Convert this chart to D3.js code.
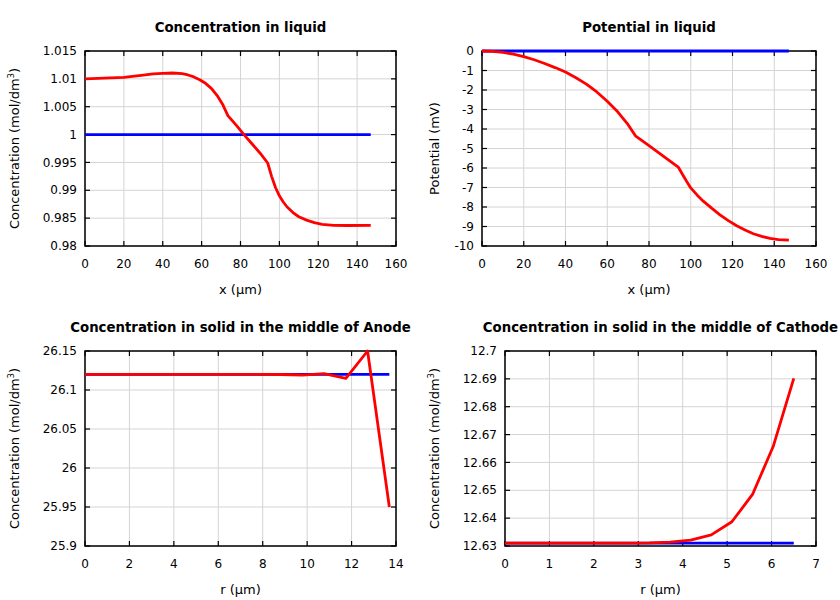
<!DOCTYPE html>
<html><head><meta charset="utf-8">
<script src="https://cdn.jsdelivr.net/npm/d3@7"></script>
<style>body{margin:0;background:#fff} text{font-family:"DejaVu Sans",sans-serif;fill:#000}</style>
</head><body><svg id="c" width="840" height="600"></svg>
<script>
// ---- Data ----
// Panel 1: Concentration in liquid
const liqX = [0,10,20,30,35,40,45,50,53,56,59,62,65,68,71,73.5,78,82,86,90,94,96,98,100,102,104,107,110,114,118,122,128,135,147];
const liqConc = [1.0100,1.01013,1.01028,1.01067,1.0109,1.0110,1.01105,1.01095,1.0107,1.01035,1.00985,1.0092,1.0083,1.0070,1.0053,1.0034,1.0016,0.9999,0.9983,0.9967,0.9949,0.9925,0.9905,0.9890,0.9879,0.9870,0.9860,0.98525,0.98465,0.9842,0.98388,0.9837,0.98368,0.9837];
const liqConcInit = [1,1];
const liqInitX = [0,147];
// Panel 2: Potential in liquid
const potX = [0,5,10,15,20,25,30,35,40,45,50,55,60,65,70,73.5,80,87,94,96,98,100,103,106,110,114,118,122,126,130,134,138,142,147];
const potVal = [0,-0.02,-0.07,-0.16,-0.29,-0.45,-0.64,-0.85,-1.08,-1.37,-1.70,-2.10,-2.58,-3.12,-3.78,-4.35,-4.85,-5.4,-5.95,-6.32,-6.68,-7.02,-7.38,-7.70,-8.06,-8.40,-8.70,-8.96,-9.18,-9.37,-9.51,-9.61,-9.67,-9.70];
const potInit = [0,0];
// Panel 3: Anode solid
const anodeR = [0,0.979,1.957,2.936,3.914,4.893,5.871,6.85,7.829,8.807,9.786,10.764,11.743,12.721,13.7];
const anodeConc = [26.12,26.12,26.12,26.12,26.12,26.12,26.12,26.12,26.12,26.1199,26.1192,26.121,26.115,26.15,25.95];
const anodeInit = [26.12,26.12];
const anodeInitR = [0,13.7];
// Panel 4: Cathode solid
const cathR = [0,0.464,0.929,1.393,1.857,2.321,2.786,3.25,3.714,4.179,4.643,5.107,5.571,6.036,6.5];
const cathConc = [12.631,12.631,12.631,12.631,12.631,12.631,12.631,12.6311,12.6314,12.6321,12.634,12.6387,12.6485,12.6657,12.6902];
const cathInit = [12.631,12.631];
const cathInitR = [0,6.5];
// Tick labels
const xTicksLiq = [0,20,40,60,80,100,120,140,160];
const yTicksConcLiq = [0.98,0.985,0.99,0.995,1,1.005,1.01,1.015];
const yTicksPot = [0,-1,-2,-3,-4,-5,-6,-7,-8,-9,-10];
const xTicksAnode = [0,2,4,6,8,10,12,14];
const yTicksAnode = [25.9,25.95,26,26.05,26.1,26.15];
const xTicksCath = [0,1,2,3,4,5,6,7];
const yTicksCath = [12.63,12.64,12.65,12.66,12.67,12.68,12.69,12.7];

const svg = d3.select("#c");
const fmt = d => String(+d.toFixed(4));

function panel(o){
  const g = svg.append("g");
  const x = d3.scaleLinear().domain(o.xd).range([o.x0,o.x1]);
  const y = d3.scaleLinear().domain(o.yd).range([o.y1,o.y0]);
  g.selectAll(".gx").data(o.xt).enter().append("line")
    .attr("x1",d=>x(d)).attr("x2",d=>x(d)).attr("y1",o.y0).attr("y2",o.y1)
    .attr("stroke","#d4d4d4").attr("stroke-width",1);
  g.selectAll(".gy").data(o.yt).enter().append("line")
    .attr("y1",d=>y(d)).attr("y2",d=>y(d)).attr("x1",o.x0).attr("x2",o.x1)
    .attr("stroke","#d4d4d4").attr("stroke-width",1);
  const tl = 5;
  const tg = g.append("g").attr("stroke","#000").attr("stroke-width",1.2);
  o.xt.forEach(d=>{
    tg.append("line").attr("x1",x(d)).attr("x2",x(d)).attr("y1",o.y1).attr("y2",o.y1-tl);
    tg.append("line").attr("x1",x(d)).attr("x2",x(d)).attr("y1",o.y0).attr("y2",o.y0+tl);
  });
  o.yt.forEach(d=>{
    tg.append("line").attr("y1",y(d)).attr("y2",y(d)).attr("x1",o.x0).attr("x2",o.x0+tl);
    tg.append("line").attr("y1",y(d)).attr("y2",y(d)).attr("x1",o.x1).attr("x2",o.x1-tl);
  });
  g.append("rect").attr("x",o.x0).attr("y",o.y0).attr("width",o.x1-o.x0).attr("height",o.y1-o.y0)
    .attr("fill","none").attr("stroke","#000").attr("stroke-width",1.5);
  g.selectAll(".xl").data(o.xt).enter().append("text")
    .attr("x",d=>x(d)).attr("y",o.y1+22).attr("text-anchor","middle").attr("font-size",12).text(fmt);
  g.selectAll(".yl").data(o.yt).enter().append("text")
    .attr("x",o.x0-8).attr("y",d=>y(d)).attr("dy","0.35em").attr("text-anchor","end").attr("font-size",12).text(fmt);
  g.append("text").attr("x",(o.x0+o.x1)/2).attr("y",o.y0-19.5).attr("text-anchor","middle")
    .attr("font-size",13.3).attr("font-weight","bold").text(o.title);
  g.append("text").attr("x",(o.x0+o.x1)/2).attr("y",o.y1+47.5).attr("text-anchor","middle")
    .attr("font-size",13).text(o.xl);
  const yl = g.append("text").attr("transform",`translate(${o.ylx},${(o.y0+o.y1)/2}) rotate(-90)`)
    .attr("text-anchor","middle").attr("font-size",13);
  yl.append("tspan").text(o.yl);
  if(o.sup){
    yl.append("tspan").attr("dy",-5).attr("font-size",8.5).text(o.sup);
    yl.append("tspan").attr("dy",5).text(")");
  }
  o.series.forEach(s=>{
    const line = d3.line().x((d,i)=>x(s.x[i])).y(d=>y(d));
    g.append("path").attr("d",line(s.y)).attr("fill","none")
      .attr("stroke",s.c).attr("stroke-width",2.8).attr("stroke-linejoin","round");
  });
}

panel({x0:85,x1:396,y0:51,y1:246,xd:[0,160],yd:[0.98,1.015],xt:xTicksLiq,yt:yTicksConcLiq,
  title:"Concentration in liquid",xl:"x (µm)",yl:"Concentration (mol/dm",sup:"3",ylx:18.5,
  series:[{x:liqInitX,y:liqConcInit,c:"#0000ff"},{x:liqX,y:liqConc,c:"#ff0000"}]});
panel({x0:482,x1:816,y0:51,y1:246,xd:[0,160],yd:[-10,0],xt:xTicksLiq,yt:yTicksPot,
  title:"Potential in liquid",xl:"x (µm)",yl:"Potential (mV)",ylx:438.5,
  series:[{x:liqInitX,y:potInit,c:"#0000ff"},{x:potX,y:potVal,c:"#ff0000"}]});
panel({x0:85,x1:396,y0:351,y1:546,xd:[0,14],yd:[25.9,26.15],xt:xTicksAnode,yt:yTicksAnode,
  title:"Concentration in solid in the middle of Anode",xl:"r (µm)",yl:"Concentration (mol/dm",sup:"3",ylx:18.5,
  series:[{x:anodeInitR,y:anodeInit,c:"#0000ff"},{x:anodeR,y:anodeConc,c:"#ff0000"}]});
panel({x0:505,x1:816,y0:351,y1:546,xd:[0,7],yd:[12.63,12.7],xt:xTicksCath,yt:yTicksCath,
  title:"Concentration in solid in the middle of Cathode",xl:"r (µm)",yl:"Concentration (mol/dm",sup:"3",ylx:438.5,
  series:[{x:cathInitR,y:cathInit,c:"#0000ff"},{x:cathR,y:cathConc,c:"#ff0000"}]});
</script></body></html>
